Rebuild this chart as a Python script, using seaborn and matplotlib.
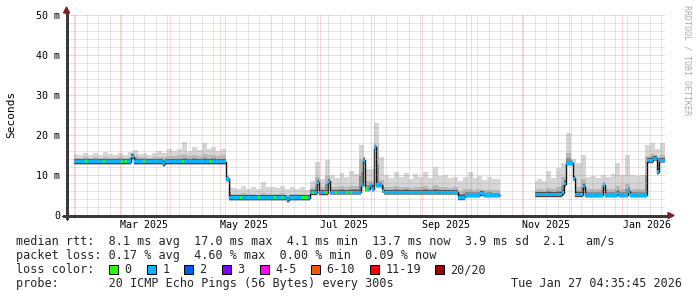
import numpy as np
import pandas as pd
import matplotlib
matplotlib.use("Agg")
import matplotlib.pyplot as plt
import matplotlib.dates as mdates
import seaborn as sns
from matplotlib.patches import Rectangle, Polygon

# ---------------- data ----------------
median_times = [
    "2025-02-01 00:00", "2025-03-08 00:00", "2025-03-09 18:00", "2025-03-27 12:00",
    "2025-03-28 12:00", "2025-05-04 18:00", "2025-05-06 12:00", "2025-06-11 00:00",
    "2025-06-12 00:00", "2025-06-25 00:00", "2025-06-29 06:00", "2025-06-30 12:00",
    "2025-07-06 00:00", "2025-07-07 06:00", "2025-07-26 00:00", "2025-07-27 06:00",
    "2025-07-28 12:00", "2025-07-31 12:00", "2025-08-01 12:00", "2025-08-03 00:00",
    "2025-08-04 06:00", "2025-08-07 18:00", "2025-08-09 00:00", "2025-09-23 00:00",
    "2025-09-27 12:00", "2025-10-06 12:00", "2025-10-09 00:00", "2025-10-18 18:00",
    "2025-11-09 00:00", "2025-11-25 12:00", "2025-11-26 18:00", "2025-11-27 18:00",
    "2025-12-02 06:00", "2025-12-03 06:00", "2025-12-08 06:00", "2025-12-09 12:00",
    "2025-12-20 12:00", "2025-12-21 12:00", "2025-12-29 00:00", "2025-12-30 00:00",
    "2026-01-04 12:00", "2026-01-06 00:00", "2026-01-16 06:00", "2026-01-19 18:00",
    "2026-01-22 06:00", "2026-01-23 12:00", "2026-01-27 04:35",
]
median_ms = [
    13.3, 14.6, 13.3, 12.8,
    13.3, 9.0, 4.3, 3.8,
    4.3, 5.6, 8.2, 5.6,
    8.4, 5.7, 7.5, 13.7,
    6.5, 7.5, 6.5, 17.0,
    7.5, 6.2, 5.7, 4.4,
    5.0, 5.4, 5.0, np.nan,
    5.1, 5.6, 7.8, 13.0,
    9.2, 5.1, 7.2, 5.0,
    7.5, 5.0, 5.4, 5.0,
    6.0, 5.0, 13.6, 14.2,
    10.8, 13.7, 13.7,
]

# smoke (ping spread) sampled every 3 days from 2025-02-01
smoke_start = "2025-02-01"
smoke_step_days = 3
nan = np.nan
smoke_max_ms = [
    15.2, 15.0, 15.4, 14.9, 15.6, 15.1, 15.8, 15.2, 15.0, 15.5,
    15.1, 15.7, 16.3, 15.3, 15.6, 15.1, 15.4, 15.9, 15.5, 16.4,
    16.0, 16.6, 18.3, 16.1, 16.9, 16.2, 18.0, 16.5, 16.9, 16.1,
    16.4, 9.5, 6.8, 6.5, 7.2, 6.6, 7.0, 6.4, 8.3, 6.9,
    7.0, 6.8, 7.3, 6.5, 7.0, 6.6, 6.9, 6.3, 8.6, 13.3,
    9.0, 13.7, 10.0, 9.2, 10.5, 9.6, 11.0, 10.2, 17.5, 11.5,
    11.5, 23.0, 14.6, 10.0, 9.2, 10.8, 9.5, 10.5, 9.0, 10.2,
    9.4, 10.8, 9.2, 12.0, 9.8, 10.0, 9.3, 9.6, 8.6, 9.5,
    10.7, 9.2, 9.8, 8.8, 9.4, 8.9, 9.0, nan, nan, nan,
    nan, nan, nan, 8.5, 9.0, 8.6, 11.0, 9.2, 11.7, 13.0,
    20.4, 14.0, 13.0, 15.0, 9.5, 9.8, 9.2, 10.0, 9.6, 10.2,
    13.0, 10.0, 15.0, 10.0, 9.8, 10.0, 17.5, 18.0, 16.5, 18.0, 18.0,
]
smoke_mid_ms = [
    14.3, 14.2, 14.4, 14.2, 14.5, 14.3, 14.5, 14.3, 14.2, 14.4,
    14.3, 14.6, 15.0, 14.4, 14.5, 14.3, 14.4, 14.6, 14.5, 14.8,
    14.7, 14.9, 15.2, 14.8, 15.0, 14.8, 15.3, 14.9, 15.0, 14.8,
    14.9, 7.0, 5.3, 5.2, 5.4, 5.2, 5.3, 5.1, 5.5, 5.3,
    5.3, 5.2, 5.4, 5.1, 5.3, 5.2, 5.2, 5.1, 6.8, 9.5,
    6.9, 9.8, 7.0, 6.9, 7.2, 7.0, 7.3, 7.2, 14.0, 8.5,
    8.5, 17.5, 8.8, 7.0, 6.9, 7.2, 6.9, 7.1, 6.8, 7.0,
    6.9, 7.2, 6.8, 7.4, 7.0, 7.0, 6.8, 6.9, 6.0, 6.4,
    6.6, 6.3, 6.5, 6.2, 6.3, 6.2, 6.2, nan, nan, nan,
    nan, nan, nan, 6.3, 6.4, 6.3, 6.8, 6.5, 7.0, 9.5,
    15.5, 9.5, 7.0, 9.0, 6.5, 6.6, 6.4, 7.5, 6.5, 6.6,
    7.2, 6.6, 7.8, 6.6, 6.5, 6.6, 14.8, 15.2, 14.5, 15.0, 15.0,
]

# periods where the median was drawn with the "0 loss" colour
green_from = ["2025-02-08 00:00", "2025-02-18 18:00", "2025-03-01 18:00", "2025-03-04 06:00",
              "2025-03-15 06:00", "2025-04-08 00:00", "2025-04-25 00:00", "2025-05-13 06:00",
              "2025-05-24 06:00", "2025-06-03 00:00", "2025-06-07 06:00", "2025-06-20 00:00",
              "2025-06-26 06:00", "2025-07-04 00:00", "2025-07-10 06:00", "2025-07-17 00:00",
              "2025-07-19 06:00", "2025-07-29 00:00"]
green_to = ["2025-02-09 06:00", "2025-02-20 00:00", "2025-03-03 00:00", "2025-03-05 12:00",
            "2025-03-16 12:00", "2025-04-09 06:00", "2025-04-26 06:00", "2025-05-14 12:00",
            "2025-05-25 12:00", "2025-06-04 06:00", "2025-06-08 12:00", "2025-06-23 18:00",
            "2025-06-27 12:00", "2025-07-05 06:00", "2025-07-11 12:00", "2025-07-18 06:00",
            "2025-07-20 12:00", "2025-07-30 06:00"]

y_ticks = [0, 10, 20, 30, 40, 50]
y_tick_labels = ["0", "10 m", "20 m", "30 m", "40 m", "50 m"]
x_label_months = ["2025-03-01", "2025-05-01", "2025-07-01", "2025-09-01", "2025-11-01", "2026-01-01"]
x_label_texts = ["Mar 2025", "May 2025", "Jul 2025", "Sep 2025", "Nov 2025", "Jan 2026"]

loss_labels = ["0", "1", "2", "3", "4-5", "6-10", "11-19", "20/20"]
loss_colors = ["#26ff00", "#00b8ff", "#0059ff", "#7e00ff", "#ff00ff", "#ff5500", "#ff0000", "#a00000"]

legend_rtt = "median rtt:  8.1 ms avg  17.0 ms max  4.1 ms min  13.7 ms now  3.9 ms sd  2.1   am/s"
legend_loss = "packet loss: 0.17 % avg  4.60 % max  0.00 % min  0.09 % now"
legend_color = "loss color:"
legend_probe = "probe:       20 ICMP Echo Pings (56 Bytes) every 300s"
legend_stamp = "Tue Jan 27 04:35:45 2026"
y_title = "Seconds"
watermark = "RRDTOOL / TOBI OETIKER"

# ---------------- figure ----------------
W, H = 697, 297
sns.set_theme(style="white")
plt.rcParams["font.family"] = ["DejaVu Sans Mono", "DejaVu Sans"]
plt.rcParams["lines.scale_dashes"] = False
MONO = ["DejaVu Sans Mono", "DejaVu Sans"]

fig = plt.figure(figsize=(W / 100, H / 100), dpi=100)
fig.patch.set_facecolor("white")
L, R, T, B = 67, 665, 15, 215
ax = fig.add_axes([L / W, 1 - B / H, (R - L) / W, (B - T) / H])
ax.set_facecolor("white")
for s in ax.spines.values():
    s.set_visible(False)

t_start = pd.Timestamp("2025-01-28 00:00")
t_end = pd.Timestamp("2026-01-27 04:35")
x0, x1 = mdates.date2num(t_start), mdates.date2num(t_end)
ax.set_xlim(x0, x1)
ax.set_ylim(0, 50)
ax.set_xticks([])
ax.set_yticks([])
px_per_day = (R - L) / (x1 - x0)
px_per_ms = (B - T) / 50.0

# ---- build a staircase of the median and the smoke ----
mt = mdates.date2num(pd.to_datetime(median_times))
mv = np.array(median_ms, dtype=float)
smax = np.array(smoke_max_ms, dtype=float)
smid = np.array(smoke_mid_ms, dtype=float)
st = mdates.date2num(pd.Timestamp(smoke_start)) + np.arange(len(smax)) * smoke_step_days

bounds = np.unique(np.concatenate([mt, st[st < mt[-1]]]))
xs, med_s, max_s, mid_s = [], [], [], []
for a, b in zip(bounds[:-1], bounds[1:]):
    m = mv[np.searchsorted(mt, a, side="right") - 1]
    k = np.searchsorted(st, a, side="right") - 1
    xs += [a, b]
    med_s += [m, m]
    max_s += [smax[k], smax[k]]
    mid_s += [smid[k], smid[k]]
xs = np.array(xs)
med_s = np.array(med_s)
max_s = np.fmax(np.array(max_s), med_s + 1.0)
mid_s = np.fmax(np.array(mid_s), med_s + 0.8)
max_s[np.isnan(med_s)] = np.nan
mid_s[np.isnan(med_s)] = np.nan

# smoke layers (lightest outermost)
ax.fill_between(xs, med_s - 0.8, max_s, color="#d6d6d6", lw=0, zorder=1)
ax.fill_between(xs, med_s - 0.7, mid_s, color="#b8b8b8", lw=0, zorder=1.1)
ax.fill_between(xs, med_s - 0.6, (med_s + mid_s) / 2, color="#8c8c8c", lw=0, zorder=1.2)
ax.fill_between(xs, med_s - 0.55, med_s + 0.6, color="#505050", lw=0, zorder=1.3)

# median line (black) drawn through seaborn, split at the data gap
seg = np.cumsum(np.isnan(med_s))
df = pd.DataFrame({"t": xs, "v": med_s, "seg": seg}).dropna()
sns.lineplot(data=df, x="t", y="v", units="seg", estimator=None, sort=False,
             color="#111111", linewidth=1.0, ax=ax, legend=False, zorder=2)
ax.set_xlabel("")
ax.set_ylabel("")
ax.set_xlim(x0, x1)
ax.set_ylim(0, 50)

# loss-coloured median band
ax.fill_between(xs, med_s - 0.38, med_s + 0.38, color=loss_colors[1], lw=0, zorder=3)
for gf, gt in zip(green_from, green_to):
    a = mdates.date2num(pd.Timestamp(gf))
    b = mdates.date2num(pd.Timestamp(gt))
    m = mv[np.searchsorted(mt, a, side="right") - 1]
    ax.fill_between([a, b], [m - 0.38] * 2, [m + 0.38] * 2, color=loss_colors[0], lw=0, zorder=3.1)

# ---- grid (dotted, rrdtool style) ----
minor_c = (0.60, 0.60, 0.60, 0.50)
major_c = (0.90, 0.35, 0.35, 0.50)
dash = (0, (0.72, 0.72))
ext_y = 2.5 / px_per_ms
ext_x = 2.5 / px_per_day
months = pd.date_range("2025-02-01", t_end, freq="MS")
sundays = pd.date_range(t_start, t_end, freq="W-SUN")
month_nums = set(mdates.date2num(months))
for d in mdates.date2num(sundays):
    if d in month_nums:
        continue
    ax.plot([d, d], [-ext_y, 50], color=minor_c, lw=0.72, ls=dash, clip_on=False, zorder=5)
for d in mdates.date2num(months):
    ax.plot([d, d], [-ext_y, 50], color=major_c, lw=0.72, ls=dash, clip_on=False, zorder=5.1)
for yv in range(2, 51, 2):
    c = major_c if yv % 10 == 0 else minor_c
    ax.plot([x0 - ext_x, x1], [yv, yv], color=c, lw=0.72, ls=dash, clip_on=False, zorder=5)

# ---- axes lines and arrows ----
def P(x, y):
    return (x / W, 1 - y / H)

axis_c = "#3a3a3a"
fig.add_artist(plt.Line2D([66.5 / W, 66.5 / W], [1 - 218.5 / H, 1 - 11 / H], color=axis_c,
                          lw=0.9, antialiased=False, transform=fig.transFigure, zorder=6))
fig.add_artist(plt.Line2D([63 / W, 669 / W], [1 - 215.5 / H, 1 - 215.5 / H], color=axis_c,
                          lw=0.9, antialiased=False, transform=fig.transFigure, zorder=6))
arrow_c = "#7f1f1f"
fig.add_artist(Polygon([P(63.5, 13), P(69.5, 13), P(66.5, 7)], closed=True, color=arrow_c,
                       transform=fig.transFigure, zorder=7))
fig.add_artist(Polygon([P(668, 212.5), P(668, 218.5), P(674, 215.5)], closed=True, color=arrow_c,
                       transform=fig.transFigure, zorder=7))

# ---- tick labels ----
for yv, lab in zip(y_ticks, y_tick_labels):
    ypx = B - yv * px_per_ms
    fig.text(60 / W, 1 - (ypx + 3.6) / H, lab, ha="right", va="baseline",
             fontsize=7.2, family=MONO, color="black")
for mstr, lab in zip(x_label_months, x_label_texts):
    c = mdates.date2num(pd.Timestamp(mstr)) + 15
    xpx = L + (c - x0) * px_per_day
    fig.text(xpx / W, 1 - 228.5 / H, lab, ha="center", va="baseline",
             fontsize=7.2, family=MONO, color="black")

fig.text(11 / W, 1 - 114.5 / H, y_title, rotation=90, ha="center", va="center",
         fontsize=8, family=MONO, color="black")
fig.text(687.5 / W, 1 - 60 / H, watermark, rotation=270, ha="center", va="center",
         fontsize=6, family=MONO, color="#aaaaaa")

# ---- legend ----
LF = 8.5
fig.text(16 / W, 1 - 245.3 / H, legend_rtt, ha="left", va="baseline", fontsize=LF, family=MONO)
fig.text(16 / W, 1 - 259.3 / H, legend_loss, ha="left", va="baseline", fontsize=LF, family=MONO)
fig.text(16 / W, 1 - 273.3 / H, legend_color, ha="left", va="baseline", fontsize=LF, family=MONO)
fig.text(16 / W, 1 - 287.3 / H, legend_probe, ha="left", va="baseline", fontsize=LF, family=MONO)
fig.text(682 / W, 1 - 287.3 / H, legend_stamp, ha="right", va="baseline", fontsize=LF, family=MONO)

box_x = [109, 147, 184, 222, 260, 311, 370, 435]
for bx, lab, col in zip(box_x, loss_labels, loss_colors):
    fig.add_artist(Rectangle((bx / W, 1 - 273.5 / H), 9 / W, 9 / H, facecolor=col,
                             edgecolor="black", lw=0.7, transform=fig.transFigure))
    fig.text((bx + 15.5) / W, 1 - 273.3 / H, lab, ha="left", va="baseline", fontsize=LF, family=MONO)

fig.savefig("out.png", dpi=100, facecolor="white")
